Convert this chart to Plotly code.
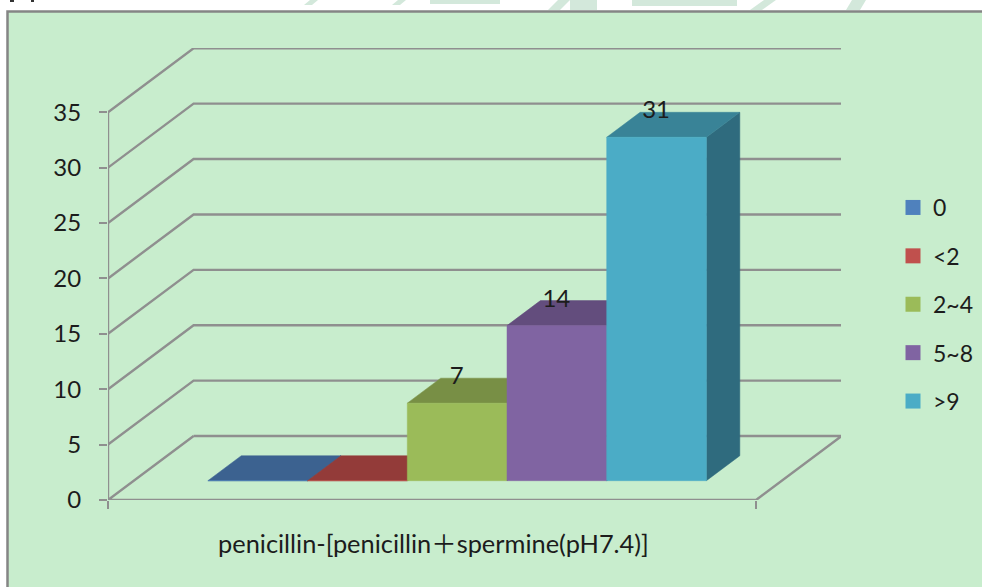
import plotly.graph_objects as go

# Chart content
categories = ["0", "<2", "2~4", "5~8", ">9"]
counts = [0, 0, 7, 14, 31]
y_ticks = [0, 5, 10, 15, 20, 25, 30, 35]
axis_title = "penicillin-[penicillin＋spermine(pH7.4)]"

# Face colours per series: front, top, side
front_colors = ["#4F81BD", "#C0504D", "#9BBB59", "#8064A2", "#4BACC6"]
top_colors = ["#3C6290", "#933B39", "#788F45", "#634D7D", "#398397"]
side_colors = ["#2F4D72", "#752E2D", "#5F7136", "#4E3D63", "#2F6B7E"]

WIDTH, HEIGHT = 982, 587
L, R, T, B = 108, 841, 48, 500
GRID = "#8F8F8F"
TEXT = "#1C1C1C"
FONT = "Lato, 'Noto Sans CJK SC', sans-serif"
PANEL = "#C8EDCD"

# Oblique projection of the 3-D box: one slot is one bar width, depth runs 0..1
X_MAX = 7.352
Y_MAX = 40.8
FLOOR_SLOTS = 6.5
DEPTH_X = 0.8586
DEPTH_Y = 5.776
BAR_START = 0.743
BAR_FRONT = 0.3016
BAR_BACK = 0.692


def project(slot, value, depth):
    return slot + depth * DEPTH_X, value + depth * DEPTH_Y


def polygon(points, color, name):
    xs, ys = zip(*[project(*p) for p in points])
    return go.Scatter(
        x=list(xs) + [xs[0]], y=list(ys) + [ys[0]], mode="lines", fill="toself",
        fillcolor=color, line=dict(color=color, width=0.5),
        showlegend=False, hoverinfo="skip", name=name, cliponaxis=False,
    )


def polyline(points):
    xs, ys = zip(*[project(*p) for p in points])
    return go.Scatter(
        x=list(xs), y=list(ys), mode="lines", line=dict(color=GRID, width=2.4),
        showlegend=False, hoverinfo="skip", cliponaxis=False,
    )


def px_x(v):
    return (v - L) / (R - L)


def px_y(v):
    return (B - v) / (B - T)


fig = go.Figure()

# Walls and floor
for tick in y_ticks[1:]:
    fig.add_trace(polyline([(0, tick, 0), (0, tick, 1), (FLOOR_SLOTS, tick, 1)]))
fig.add_trace(polyline([(0, 0, 1), (FLOOR_SLOTS, 0, 1), (FLOOR_SLOTS, 0, 0), (0, 0, 0), (0, 0, 1)]))
fig.add_trace(polyline([(0, 0, 0), (0, y_ticks[-1], 0)]))

# Bars, left to right so each front face covers its neighbour's side
for i, (name, value) in enumerate(zip(categories, counts)):
    a, b = BAR_START + i, BAR_START + i + 1
    fig.add_trace(polygon([(b, 0, BAR_FRONT), (b, 0, BAR_BACK), (b, value, BAR_BACK), (b, value, BAR_FRONT)],
                          side_colors[i], name))
    fig.add_trace(polygon([(a, value, BAR_FRONT), (a, value, BAR_BACK), (b, value, BAR_BACK), (b, value, BAR_FRONT)],
                          top_colors[i], name))
    fig.add_trace(polygon([(a, 0, BAR_FRONT), (b, 0, BAR_FRONT), (b, value, BAR_FRONT), (a, value, BAR_FRONT)],
                          front_colors[i], name))

# Value labels sit over the back edge of each bar's top
labelled = [(i, v) for i, v in enumerate(counts) if v > 0]
label_points = [project(BAR_START + i + 0.5 - 0.34, v, BAR_BACK) for i, v in labelled]
fig.add_trace(go.Scatter(
    x=[p[0] for p in label_points], y=[p[1] for p in label_points],
    text=[str(v) for _, v in labelled], mode="text", textposition="middle center",
    textfont=dict(family=FONT, size=24, color=TEXT),
    showlegend=False, hoverinfo="skip", cliponaxis=False,
))

# Legend entries
for i, name in enumerate(categories):
    fig.add_trace(go.Scatter(
        x=[None], y=[None], mode="markers", name=name, legendgroup=name,
        marker=dict(symbol="square", size=15, color=front_colors[i]),
    ))

# Scanned page remnants above the panel, then the panel itself
shapes = []
for x0, x1, y1, skew in [(304, 312, 5, 6), (392, 400, 5, 6), (430, 500, 4, 0), (632, 737, 6, 0),
                         (570, 597, 10, 0), (548, 560, 10, 10), (750, 762, 10, 14), (846, 860, 10, 6)]:
    shapes.append(dict(
        type="path", xref="paper", yref="paper", layer="below", line_width=0, fillcolor="#D3E8DB",
        path=f"M{px_x(x0 + skew)},{px_y(0)} L{px_x(x1 + skew)},{px_y(0)} L{px_x(x1)},{px_y(y1)} L{px_x(x0)},{px_y(y1)} Z",
    ))
for x0, x1 in [(10, 14), (31, 34)]:
    shapes.append(dict(
        type="rect", xref="paper", yref="paper", layer="below", line_width=0, fillcolor="#333333",
        x0=px_x(x0), x1=px_x(x1), y0=px_y(0), y1=px_y(2),
    ))
shapes.append(dict(
    type="rect", xref="paper", yref="paper", layer="below",
    x0=px_x(7.5), x1=px_x(1000), y0=px_y(11.5), y1=px_y(600),
    fillcolor=PANEL, line=dict(color="#858585", width=2.5),
))

fig.update_layout(
    width=WIDTH, height=HEIGHT, autosize=False,
    margin=dict(l=L, r=WIDTH - R, t=T, b=HEIGHT - B, pad=0),
    paper_bgcolor="white", plot_bgcolor="rgba(0,0,0,0)",
    shapes=shapes,
    xaxis=dict(
        range=[0, X_MAX], showgrid=False, zeroline=False, showline=False,
        tickmode="array", tickvals=[0, FLOOR_SLOTS], ticks="outside", ticklen=8, tickwidth=2,
        tickcolor=GRID, showticklabels=False, fixedrange=True,
    ),
    yaxis=dict(
        range=[0, Y_MAX], showgrid=False, zeroline=False, showline=False,
        tickmode="array", tickvals=y_ticks, ticks="outside", ticklen=8, tickwidth=2,
        tickcolor=GRID, fixedrange=True, tickfont=dict(family=FONT, size=24, color=TEXT),
        ticklabelstandoff=13,
    ),
    legend=dict(
        xref="container", yref="container", x=893 / WIDTH, y=1 - 186 / HEIGHT,
        xanchor="left", yanchor="top", bgcolor="rgba(0,0,0,0)",
        font=dict(family=FONT, size=23, color=TEXT), tracegroupgap=15.5,
        itemclick=False, itemdoubleclick=False,
    ),
    annotations=[dict(
        text=axis_title, xref="paper", yref="paper", x=px_x(433), y=px_y(543),
        xanchor="center", yanchor="middle", showarrow=False,
        font=dict(family=FONT, size=25.4, color=TEXT),
    )],
)

fig.write_html("out.html")
